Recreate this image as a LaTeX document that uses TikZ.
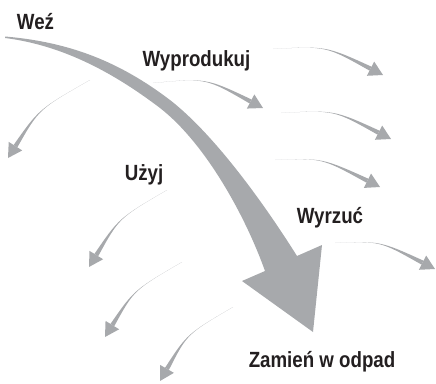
\documentclass[tikz,border=0pt]{standalone}
\usepackage{fontspec}
\newfontfamily\etykietafont{Liberation Sans}[FakeStretch=0.85]
\usetikzlibrary{calc}
\definecolor{szary}{RGB}{167,169,172}
\definecolor{napis}{RGB}{35,31,32}
\newcommand{\strzalka}[4][2.2pt]
	{
	\coordinate (ogon) at (#2);
	\coordinate (ster) at (#3);
	\coordinate (grot) at (#4);
	\coordinate (baza) at ($(grot)!14pt!(ster)$);%podstawa grotu
	\fill[szary] (ogon) .. controls (ster) .. ($(baza)!#1!90:(grot)$) -- ($(baza)!#1!-90:(grot)$) .. controls (ster) .. (ogon) -- cycle;
	\fill[szary] ($(baza)!8pt!90:(grot)$) -- (grot) -- ($(baza)!8pt!-90:(grot)$) -- cycle;
	}

\begin{document}
\begin{tikzpicture}[x=1pt,y=-1pt,
	etykieta/.style={anchor=base,text=napis,font=\etykietafont\bfseries\fontsize{22}{26}\selectfont}]

\useasboundingbox (0,0) rectangle (436,383);

% duza strzalka
\fill[szary] (5,36.5) .. controls (70,42) and (120,62) .. (170,100)
	.. controls (215,135) and (265,205) .. (297,256)
	-- (322,245) -- (313,332) -- (242,281) -- (265,271)
	.. controls (245,215) and (205,143) .. (160,108)
	.. controls (110,70) and (60,45) .. (5,38) -- cycle;

% napisy
\node[etykieta] (wez) at (35.5,29) {Weź};
\node[etykieta] (wyprodukuj) at (196.5,66.5) {Wyprodukuj};
\node[etykieta] (uzyj) at (144,180) {Użyj};
\node[etykieta] (wyrzuc) at (330,223) {Wyrzuć};
\node[etykieta] (odpad) at (322,367) {Zamień w odpad};

% male strzalki w lewo
\strzalka{90,80}{39,109}{8,158}
\strzalka{167,190}{119,218}{89,267}
\strzalka{182,262}{134,290}{105,337}
\strzalka{233,307}{187,334}{160,381}

% male strzalki w prawo
\strzalka{153,83}{206,78}{263,108}
\strzalka{273,49}{326,46}{383,75}
\strzalka{281,113}{334,110}{391,139}
\strzalka{275,160}{322,158}{380,187}
\strzalka{335,243}{380,241}{435,269}

\end{tikzpicture}
\end{document}
